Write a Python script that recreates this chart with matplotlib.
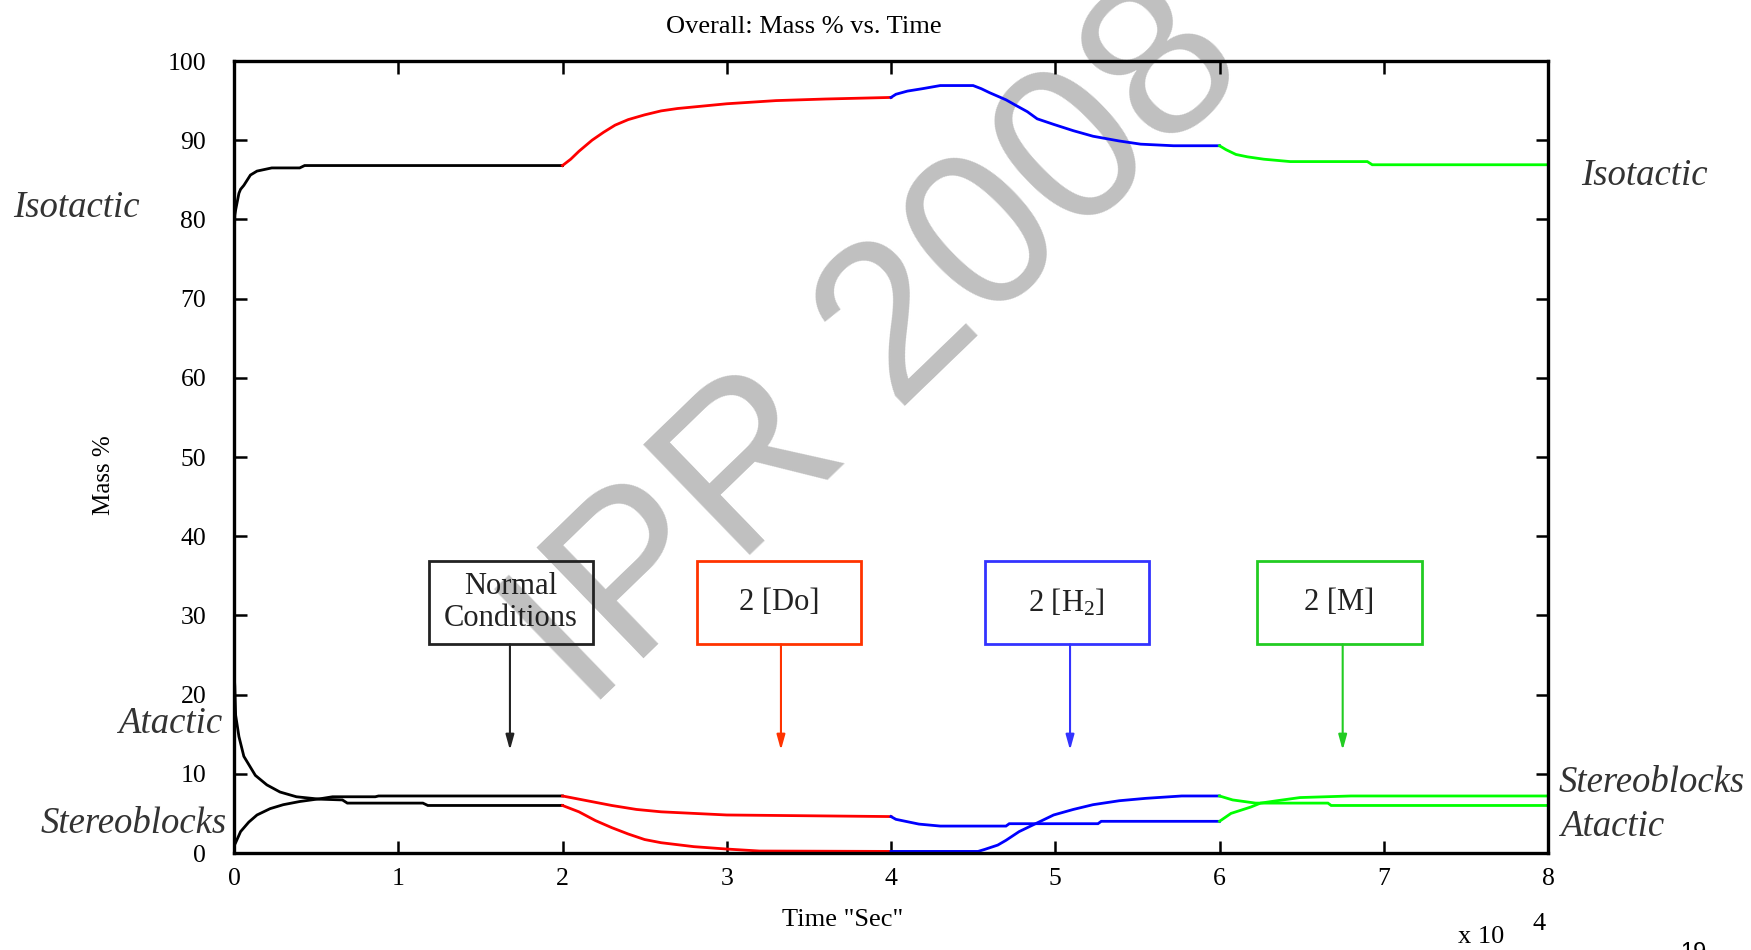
import matplotlib
matplotlib.use("Agg")
import matplotlib.pyplot as plt
from matplotlib.patches import Rectangle

plt.rcParams['font.family'] = ['Liberation Serif', 'DejaVu Serif']
plt.rcParams['mathtext.fontset'] = 'custom'
plt.rcParams['mathtext.rm'] = 'Liberation Serif'
plt.rcParams['mathtext.it'] = 'Liberation Serif:italic'

# ---------------- data (time in units of 1e4 s, values in mass %) ----------------
# Isotactic
iso_black_t = [0, 0.005, 0.01, 0.03, 0.04, 0.06, 0.10, 0.14, 0.23, 0.40, 0.43, 2.0]
iso_black_v = [76, 80.5, 81.2, 83.3, 83.8, 84.3, 85.6, 86.1, 86.5, 86.5, 86.8, 86.8]
iso_red_t = [2.0, 2.05, 2.10, 2.18, 2.25, 2.32, 2.40, 2.50, 2.60, 2.70, 2.85, 3.0, 3.3, 3.6, 4.0]
iso_red_v = [86.8, 87.6, 88.6, 90.0, 91.0, 91.9, 92.6, 93.2, 93.7, 94.0, 94.3, 94.6, 95.0, 95.2, 95.4]
iso_blue_t = [4.0, 4.03, 4.10, 4.19, 4.30, 4.50, 4.55, 4.60, 4.70, 4.76, 4.83, 4.89, 4.99, 5.11, 5.23, 5.39, 5.52, 5.72, 6.0]
iso_blue_v = [95.4, 95.8, 96.2, 96.5, 96.9, 96.9, 96.5, 96.0, 95.1, 94.4, 93.6, 92.7, 92.0, 91.2, 90.5, 89.9, 89.5, 89.3, 89.3]
iso_green_t = [6.0, 6.04, 6.10, 6.17, 6.27, 6.43, 6.90, 6.93, 8.0]
iso_green_v = [89.3, 88.8, 88.2, 87.9, 87.6, 87.3, 87.3, 86.9, 86.9]

# Atactic
ata_black_t = [0, 0.005, 0.01, 0.03, 0.06, 0.13, 0.20, 0.28, 0.38, 0.52, 0.66, 0.69, 1.15, 1.18, 2.0]
ata_black_v = [23.1, 21.0, 17.4, 14.7, 12.2, 9.8, 8.6, 7.7, 7.1, 6.8, 6.7, 6.3, 6.3, 6.0, 6.0]
ata_red_t = [2.0, 2.1, 2.2, 2.3, 2.4, 2.5, 2.6, 2.8, 3.0, 3.2, 4.0]
ata_red_v = [6.0, 5.2, 4.1, 3.2, 2.4, 1.7, 1.3, 0.8, 0.5, 0.25, 0.2]
ata_blue_t = [4.0, 4.53, 4.57, 4.65, 4.70, 4.78, 4.88, 4.99, 5.11, 5.23, 5.39, 5.55, 5.77, 6.0]
ata_blue_v = [0.2, 0.2, 0.45, 1.0, 1.6, 2.7, 3.7, 4.8, 5.5, 6.1, 6.6, 6.9, 7.2, 7.2]
ata_green_t = [6.0, 6.08, 6.22, 6.66, 6.68, 8.0]
ata_green_v = [7.2, 6.7, 6.3, 6.3, 6.0, 6.0]

# Stereoblocks
ste_black_t = [0, 0.01, 0.04, 0.09, 0.14, 0.22, 0.30, 0.40, 0.54, 0.60, 0.86, 0.88, 2.0]
ste_black_v = [0.9, 1.3, 2.7, 3.9, 4.8, 5.6, 6.1, 6.5, 6.9, 7.1, 7.1, 7.2, 7.2]
ste_red_t = [2.0, 2.1, 2.2, 2.3, 2.45, 2.6, 2.8, 3.0, 4.0]
ste_red_v = [7.2, 6.8, 6.4, 6.0, 5.5, 5.2, 5.0, 4.8, 4.6]
ste_blue_t = [4.0, 4.03, 4.10, 4.17, 4.30, 4.70, 4.72, 5.26, 5.28, 6.0]
ste_blue_v = [4.6, 4.25, 3.95, 3.65, 3.4, 3.4, 3.7, 3.7, 4.0, 4.0]
ste_green_t = [6.0, 6.07, 6.13, 6.19, 6.25, 6.35, 6.49, 6.80, 8.0]
ste_green_v = [4.0, 5.0, 5.4, 5.8, 6.3, 6.6, 7.0, 7.2, 7.2]

# Condition boxes
box_labels = ["Normal\nConditions", "2 [Do]", "2 [H$_2$]", "2 [M]"]
box_left = [1.186, 2.82, 4.57, 6.23]
arrow_x = [1.68, 3.33, 5.09, 6.75]

xticks = [0, 1, 2, 3, 4, 5, 6, 7, 8]
yticks = [0, 10, 20, 30, 40, 50, 60, 70, 80, 90, 100]

# ---------------- figure ----------------
W, H = 1751, 950
fig = plt.figure(figsize=(W / 100, H / 100), dpi=100)
fig.patch.set_facecolor('white')
ax = fig.add_axes([234 / W, 1 - 853 / H, (1548 - 234) / W, (853 - 61) / H])
ax.set_facecolor('none')

# watermark
fig.text(880 / W, 1 - 350 / H, "IPR 2008", rotation=44, fontsize=160,
         color='#c0c0c0', family='Liberation Sans', ha='center', va='center',
         rotation_mode='anchor', zorder=-5)

lw = 2.0
segments = [
    (iso_black_t, iso_black_v, '#000000'), (iso_red_t, iso_red_v, '#ff0000'),
    (iso_blue_t, iso_blue_v, '#0000ff'), (iso_green_t, iso_green_v, '#00ff00'),
    (ata_black_t, ata_black_v, '#000000'), (ata_red_t, ata_red_v, '#ff0000'),
    (ata_blue_t, ata_blue_v, '#0000ff'), (ata_green_t, ata_green_v, '#00ff00'),
    (ste_black_t, ste_black_v, '#000000'), (ste_red_t, ste_red_v, '#ff0000'),
    (ste_blue_t, ste_blue_v, '#0000ff'), (ste_green_t, ste_green_v, '#00ff00'),
]
for t, v, c in segments:
    ax.plot(t, v, color=c, lw=lw, solid_joinstyle='miter', zorder=3)

box_colors = ['#222222', '#ff3300', '#3333ff', '#22cc22']
box_w, box_bottom, box_h = 1.0, 26.35, 10.55
for lab, bl, axx, bc in zip(box_labels, box_left, arrow_x, box_colors):
    ax.add_patch(Rectangle((bl, box_bottom), box_w, box_h, fill=False,
                           edgecolor=bc, lw=2.0, zorder=4))
    ax.text(bl + box_w / 2, box_bottom + box_h / 2, lab, ha='center', va='center',
            fontsize=22, color='#222222', linespacing=1.15, zorder=5)
    ax.annotate('', xy=(axx, 13.0), xytext=(axx, box_bottom),
                arrowprops=dict(arrowstyle='-|>,head_length=0.9,head_width=0.25',
                                color=bc, lw=1.5, shrinkA=0, shrinkB=0), zorder=4)

ax.set_xlim(0, 8)
ax.set_ylim(0, 100)
ax.set_xticks(xticks)
ax.set_yticks(yticks)
ax.set_xticklabels([str(x) for x in xticks])
ax.set_yticklabels([str(y) for y in yticks])
ax.tick_params(direction='in', length=9, width=1.8, top=True, right=True,
               labelsize=18.5, colors='black')
ax.tick_params(axis='y', pad=20)
ax.tick_params(axis='x', pad=11)
for s in ax.spines.values():
    s.set_linewidth(2.4)
    s.set_zorder(6)

# titles and labels
fig.text(804 / W, 1 - 27 / H, "Overall: Mass % vs. Time", ha='center', va='center', fontsize=19)
fig.text(104 / W, 1 - 475 / H, "Mass %", rotation=90, ha='center', va='center', fontsize=18)
fig.text(843 / W, 1 - 920 / H, 'Time "Sec"', ha='center', va='center', fontsize=19)
fig.text(1481 / W, 1 - 937 / H, "x 10", ha='center', va='center', fontsize=19)
fig.text(1539 / W, 1 - 924 / H, "4", ha='center', va='center', fontsize=19)
fig.text(1693 / W, 1 - 942 / H, "19", ha='center', va='top', fontsize=17, family='Liberation Sans')

lab_kw = dict(fontsize=26.5, style='italic', color='#333333', va='center')
fig.text(13 / W, 1 - 208 / H, "Isotactic", ha='left', **lab_kw)
fig.text(222 / W, 1 - 724 / H, "Atactic", ha='right', **lab_kw)
fig.text(227 / W, 1 - 824 / H, "Stereoblocks", ha='right', **lab_kw)
fig.text(1581 / W, 1 - 176 / H, "Isotactic", ha='left', **lab_kw)
fig.text(1559 / W, 1 - 783 / H, "Stereoblocks", ha='left', **lab_kw)
fig.text(1560 / W, 1 - 827 / H, "Atactic", ha='left', **lab_kw)

fig.savefig("out.png", dpi=100)
